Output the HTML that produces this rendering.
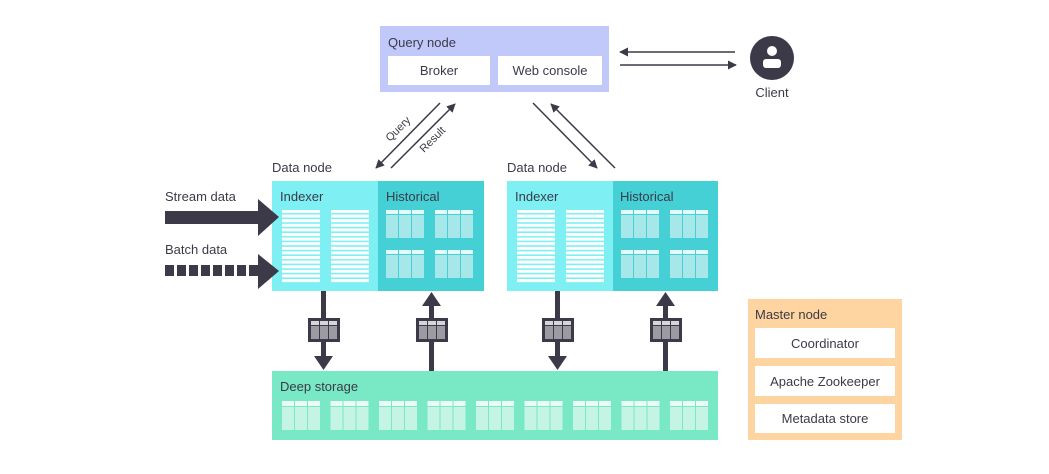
<!DOCTYPE html>
<html><head><meta charset="utf-8"><style>
html,body{margin:0;padding:0;background:#fff}
svg{display:block}
text{font-family:"Liberation Sans",sans-serif;fill:#3c3a48}
</style></head><body>
<svg width="1049" height="474" viewBox="0 0 1049 474" xmlns="http://www.w3.org/2000/svg">
<defs>
<marker id="ah" viewBox="0 0 10 10" refX="9" refY="5" markerWidth="9" markerHeight="9" orient="auto" markerUnits="userSpaceOnUse"><path d="M0,0 L10,5 L0,10 z" fill="#3c3a48"/></marker>
<pattern id="stripe" width="40" height="4.6" patternUnits="userSpaceOnUse" y="210"><rect width="40" height="3" fill="#fff"/></pattern>
<g id="hg"><rect x="0" y="0" width="12" height="4" fill="#e6fafa"/><rect x="13" y="0" width="12" height="4" fill="#e6fafa"/><rect x="26" y="0" width="12" height="4" fill="#e6fafa"/><rect x="0" y="5" width="12" height="23" fill="#a6e7e9"/><rect x="13" y="5" width="12" height="23" fill="#a6e7e9"/><rect x="26" y="5" width="12" height="23" fill="#a6e7e9"/></g>
<g id="dg"><rect x="0" y="0" width="12" height="5" fill="#eafbf4"/><rect x="13" y="0" width="12" height="5" fill="#eafbf4"/><rect x="26" y="0" width="12" height="5" fill="#eafbf4"/><rect x="0" y="6" width="12" height="23" fill="#c4f5e4"/><rect x="13" y="6" width="12" height="23" fill="#c4f5e4"/><rect x="26" y="6" width="12" height="23" fill="#c4f5e4"/></g>
<g id="sb"><rect x="-16" y="-12" width="32" height="24" fill="#3c3a48"/><rect x="-13" y="-9" width="8" height="4" fill="#d6d6da"/><rect x="-4" y="-9" width="8" height="4" fill="#d6d6da"/><rect x="5" y="-9" width="8" height="4" fill="#d6d6da"/><rect x="-13" y="-4" width="8" height="13" fill="#9c9ba4"/><rect x="-4" y="-4" width="8" height="13" fill="#9c9ba4"/><rect x="5" y="-4" width="8" height="13" fill="#9c9ba4"/></g>
</defs>

<!-- Query node -->
<rect x="380" y="26" width="229" height="66" fill="#c1c9fb"/>
<text x="388" y="47" font-size="13">Query node</text>
<rect x="388" y="56" width="102" height="29" fill="#fff"/>
<rect x="498" y="56" width="104" height="29" fill="#fff"/>
<text x="439" y="75" font-size="13" text-anchor="middle">Broker</text>
<text x="550" y="75" font-size="13" text-anchor="middle">Web console</text>

<!-- Client -->
<circle cx="772" cy="58" r="22" fill="#3c3a48"/>
<circle cx="772" cy="51" r="5" fill="#fff"/>
<rect x="763" y="59" width="18" height="9" rx="3" fill="#fff"/>
<text x="772" y="97" font-size="13" text-anchor="middle">Client</text>
<line x1="735" y1="52" x2="620" y2="52" stroke="#3c3a48" stroke-width="1.5" marker-end="url(#ah)"/>
<line x1="620" y1="65" x2="736" y2="65" stroke="#3c3a48" stroke-width="1.5" marker-end="url(#ah)"/>

<!-- Query/result arrows -->
<line x1="440" y1="103" x2="376" y2="168" stroke="#3c3a48" stroke-width="1.5" marker-end="url(#ah)"/>
<line x1="391" y1="168" x2="455" y2="104" stroke="#3c3a48" stroke-width="1.5" marker-end="url(#ah)"/>
<text x="0" y="0" font-size="11" transform="translate(390,142) rotate(-45)">Query</text>
<text x="0" y="0" font-size="11" transform="translate(424,153) rotate(-45)">Result</text>
<line x1="533" y1="103" x2="597" y2="168" stroke="#3c3a48" stroke-width="1.5" marker-end="url(#ah)"/>
<line x1="615" y1="168" x2="551" y2="104" stroke="#3c3a48" stroke-width="1.5" marker-end="url(#ah)"/>

<!-- Data node 1 -->
<text x="272" y="172" font-size="13">Data node</text>
<rect x="272" y="181" width="106" height="110" fill="#7eeff3"/>
<rect x="378" y="181" width="106" height="110" fill="#45d0d6"/>
<text x="280" y="201" font-size="13">Indexer</text>
<text x="386" y="201" font-size="13">Historical</text>
<rect x="282" y="210" width="38" height="73" fill="url(#stripe)"/>
<rect x="331" y="210" width="38" height="73" fill="url(#stripe)"/>
<use href="#hg" x="386" y="210"/><use href="#hg" x="435" y="210"/>
<use href="#hg" x="386" y="250"/><use href="#hg" x="435" y="250"/>

<!-- Data node 2 -->
<text x="507" y="172" font-size="13">Data node</text>
<rect x="507" y="181" width="106" height="110" fill="#7eeff3"/>
<rect x="613" y="181" width="105" height="110" fill="#45d0d6"/>
<text x="515" y="201" font-size="13">Indexer</text>
<text x="620" y="201" font-size="13">Historical</text>
<rect x="517" y="210" width="38" height="73" fill="url(#stripe)"/>
<rect x="566" y="210" width="38" height="73" fill="url(#stripe)"/>
<use href="#hg" x="621" y="210"/><use href="#hg" x="670" y="210"/>
<use href="#hg" x="621" y="250"/><use href="#hg" x="670" y="250"/>

<!-- Stream / Batch -->
<text x="165" y="201" font-size="13">Stream data</text>
<rect x="165" y="211" width="95" height="13" fill="#3c3a48"/>
<path d="M258,199 L279,217 L258,236 z" fill="#3c3a48"/>
<text x="165" y="254" font-size="13">Batch data</text>
<g fill="#3c3a48">
<rect x="165" y="265" width="9" height="11"/><rect x="177" y="265" width="9" height="11"/><rect x="189" y="265" width="9" height="11"/><rect x="201" y="265" width="9" height="11"/><rect x="213" y="265" width="9" height="11"/><rect x="225" y="265" width="9" height="11"/><rect x="237" y="265" width="9" height="11"/><rect x="249" y="265" width="9" height="11"/>
</g>
<path d="M258,254 L279,271 L258,289 z" fill="#3c3a48"/>

<!-- vertical arrows -->
<g fill="#3c3a48">
<rect x="321" y="291" width="5" height="66"/><path d="M314,356 L333,356 L323.5,370 z"/>
<rect x="429" y="305" width="5" height="66"/><path d="M422,306 L441,306 L431.5,292 z"/>
<rect x="555" y="291" width="5" height="66"/><path d="M548,356 L567,356 L557.5,370 z"/>
<rect x="663" y="305" width="5" height="66"/><path d="M656,306 L675,306 L665.5,292 z"/>
</g>
<use href="#sb" x="324" y="330"/>
<use href="#sb" x="432" y="330"/>
<use href="#sb" x="558" y="330"/>
<use href="#sb" x="666" y="330"/>

<!-- Deep storage -->
<rect x="272" y="371" width="446" height="69" fill="#79e8c4"/>
<text x="280" y="391" font-size="13">Deep storage</text>
<use href="#dg" x="282" y="401"/><use href="#dg" x="330.5" y="401"/><use href="#dg" x="379" y="401"/>
<use href="#dg" x="427.5" y="401"/><use href="#dg" x="476" y="401"/><use href="#dg" x="524.5" y="401"/>
<use href="#dg" x="573" y="401"/><use href="#dg" x="621.5" y="401"/><use href="#dg" x="670" y="401"/>

<!-- Master node -->
<rect x="748" y="299" width="154" height="141" fill="#fed5a0"/>
<text x="755" y="319" font-size="13">Master node</text>
<rect x="755" y="328" width="140" height="30" fill="#fff"/>
<rect x="755" y="366" width="140" height="30" fill="#fff"/>
<rect x="755" y="404" width="140" height="29" fill="#fff"/>
<text x="825" y="348" font-size="13" text-anchor="middle">Coordinator</text>
<text x="825" y="386" font-size="13" text-anchor="middle">Apache Zookeeper</text>
<text x="825" y="423" font-size="13" text-anchor="middle">Metadata store</text>
</svg>
</body></html>
